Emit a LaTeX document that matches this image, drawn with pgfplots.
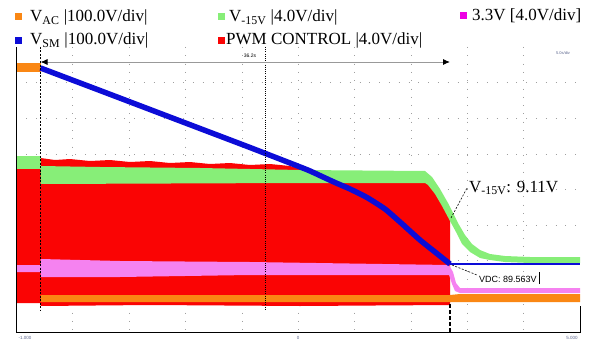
\documentclass[border=0pt]{standalone}
\usepackage{pgfplots}
\pgfplotsset{compat=1.18}
\usepackage{fontspec}
\setmainfont{Liberation Serif}
\newfontfamily\sansf{Liberation Sans}
\usetikzlibrary{arrows.meta}
\definecolor{cOrange}{RGB}{250,135,20}
\definecolor{cBlue}{RGB}{12,12,215}
\definecolor{cGreen}{RGB}{135,238,120}
\definecolor{cRed}{RGB}{250,4,4}
\definecolor{cPink}{RGB}{245,130,240}
\definecolor{cMag}{RGB}{238,0,228}
\definecolor{cTiny}{RGB}{90,100,140}
\begin{document}
\begin{tikzpicture}
\begin{axis}[
  scale only axis, width=563.5pt, height=285pt,
  xmin=16.5, xmax=580, ymin=47, ymax=332, y dir=reverse,
  hide axis, clip=false,
]
% page extent
\path (axis cs:0,0) rectangle (axis cs:591,340);
% faint dotted grid
\pgfplotsinvokeforeach{72.85,129.2,185.55,241.9,298.25,354.6,410.95,467.3,523.65}{
  \draw[gray!75, line width=0.8pt, dash pattern=on 0.8pt off 7.5pt] (axis cs:#1,47) -- (axis cs:#1,332);
}
\pgfplotsinvokeforeach{82.6,118.25,153.9,189.5,225.1,260.75,296.4}{
  \draw[gray!75, line width=0.8pt, dash pattern=on 0.8pt off 9pt] (axis cs:16.5,#1) -- (axis cs:580,#1);
}

% PWM CONTROL (red)
\addplot[fill=cRed, draw=none] coordinates {
 (16.5,168) (40.5,168) (40.5,158) (55,160) (70,159) (90,161) (110,160) (130,162) (150,161)
 (170,163) (190,162) (210,164) (230,163) (250,165) (270,164) (290,166) (305,170)
 (320,173) (425,174) (450,214) (450,305) (300,306) (150,305) (40.5,306) (40.5,303) (16.5,303)
} -- cycle;

% V-15V (green)
\addplot[fill=cGreen, draw=none] coordinates {
 (16.5,156) (40.5,156) (40.5,169) (16.5,169)
} -- cycle;
\addplot[fill=cGreen, draw=none] coordinates {
 (40.5,166) (100,167) (200,168) (300,170) (425,171) (432,177) (440,189) (448,203)
 (452,211) (458,223) (465,235) (472,244) (480,250) (490,254) (505,256) (530,257) (580,257)
 (580,263) (530,263) (505,262) (490,260) (480,258) (470,252) (462,244) (456,232)
 (450,221) (442,206) (435,194) (428,185) (425,183) (300,183) (40.5,184)
} -- cycle;

% 3.3V (pink)
\addplot[fill=cPink, draw=none] coordinates {
 (16.5,265) (40.5,265) (40.5,259) (120,261) (250,262) (449,265) (453,272) (456,283)
 (460,288) (580,288) (580,293) (460,293) (455,291) (452,284) (449,275) (250,275)
 (120,277) (40.5,277) (40.5,272) (16.5,272)
} -- cycle;

% V_AC (orange)
\addplot[fill=cOrange, draw=none] coordinates {
 (16.5,63) (40.5,63) (40.5,72) (16.5,72)
} -- cycle;
\addplot[fill=cOrange, draw=none] coordinates {
 (40.5,295) (450,295) (460,294) (580,294) (580,302) (460,302) (450,302) (40.5,302)
} -- cycle;

% V_SM (blue)
\addplot[cBlue, line width=5.5pt, line join=round, smooth, tension=0.3] coordinates {
 (40.5,68) (100,90.5) (150,109.5) (200,128.5) (250,147.5) (290,163) (309,170.5)
 (322,176.5) (335,182.5) (350,189) (367,197.5) (385,209) (400,222) (420,240) (435,252) (450,264)
};
\addplot[cBlue, line width=2.6pt] coordinates {(450,264) (580,264)};

% cursors / markers
\draw[black, line width=0.8pt, dash pattern=on 2pt off 1.5pt] (axis cs:40.5,47) -- (axis cs:40.5,310);
\draw[black, line width=0.8pt, dash pattern=on 1pt off 1.2pt] (axis cs:265,47) -- (axis cs:265,310);
\draw[black, line width=1.3pt, dash pattern=on 4pt off 2pt] (axis cs:450,304) -- (axis cs:450,332);
\draw[gray!80, line width=0.9pt, {Latex[length=7pt,width=6pt,color=black]}-{Latex[length=7pt,width=6pt,color=black]}]
  (axis cs:40.5,62) -- (axis cs:450,62);
\node[font=\sansf\fontsize{5}{6}\selectfont, inner sep=0pt] at (axis cs:250,56) {36.2s};
\node[font=\sansf\fontsize{4}{5}\selectfont, inner sep=0pt, text=cTiny] at (axis cs:563,53) {5.0s/div};

% frame
\draw[black, line width=1pt] (axis cs:16.5,47) -- (axis cs:16.5,332) -- (axis cs:580,332) -- (axis cs:580,306);

% bottom labels
\node[font=\sansf\fontsize{4.5}{5}\selectfont, inner sep=0pt, text=cTiny] at (axis cs:25,337.5) {-1.000};
\node[font=\sansf\fontsize{4.5}{5}\selectfont, inner sep=0pt, text=cTiny] at (axis cs:298,337.5) {0};
\node[font=\sansf\fontsize{4.5}{5}\selectfont, inner sep=0pt, text=cTiny] at (axis cs:572,337.5) {5.000};

% annotations
\draw[black, line width=0.6pt, dash pattern=on 2pt off 1.5pt] (axis cs:451,218) -- (axis cs:467,188);
\node[anchor=base west, inner sep=0pt, font=\fontsize{17}{20}\selectfont] at (axis cs:469,192) {V\textsubscript{-15V}: 9.11V};
\draw[black, line width=0.6pt, dash pattern=on 2pt off 1.5pt] (axis cs:452,265) -- (axis cs:477,275);
\node[anchor=base west, inner sep=0pt, font=\sansf\fontsize{9}{10}\selectfont] at (axis cs:479,282) {VDC: 89.563V};
\draw[black, line width=0.6pt] (axis cs:539,272) -- (axis cs:539,284);

% legend
\fill[cOrange] (axis cs:15,13.5) rectangle (axis cs:22,20.5);
\node[anchor=base west, inner sep=0pt, font=\fontsize{17}{20}\selectfont] at (axis cs:30,22) {V\textsubscript{AC} |100.0V/div|};
\fill[cBlue] (axis cs:15,37) rectangle (axis cs:22,44);
\node[anchor=base west, inner sep=0pt, font=\fontsize{17}{20}\selectfont] at (axis cs:30,45) {V\textsubscript{SM} |100.0V/div|};
\fill[cGreen] (axis cs:218,13.5) rectangle (axis cs:225,20.5);
\node[anchor=base west, inner sep=0pt, font=\fontsize{17}{20}\selectfont] at (axis cs:229,22) {V\textsubscript{-15V} |4.0V/div|};
\fill[cRed] (axis cs:218,37) rectangle (axis cs:225,44);
\node[anchor=base west, inner sep=0pt, font=\fontsize{17}{20}\selectfont] at (axis cs:226,45) {PWM CONTROL |4.0V/div|};
\fill[cMag] (axis cs:460,12) rectangle (axis cs:467,19);
\node[anchor=base west, inner sep=0pt, font=\fontsize{17}{20}\selectfont] at (axis cs:472,21) {3.3V [4.0V/div]};
\end{axis}
\end{tikzpicture}
\end{document}
